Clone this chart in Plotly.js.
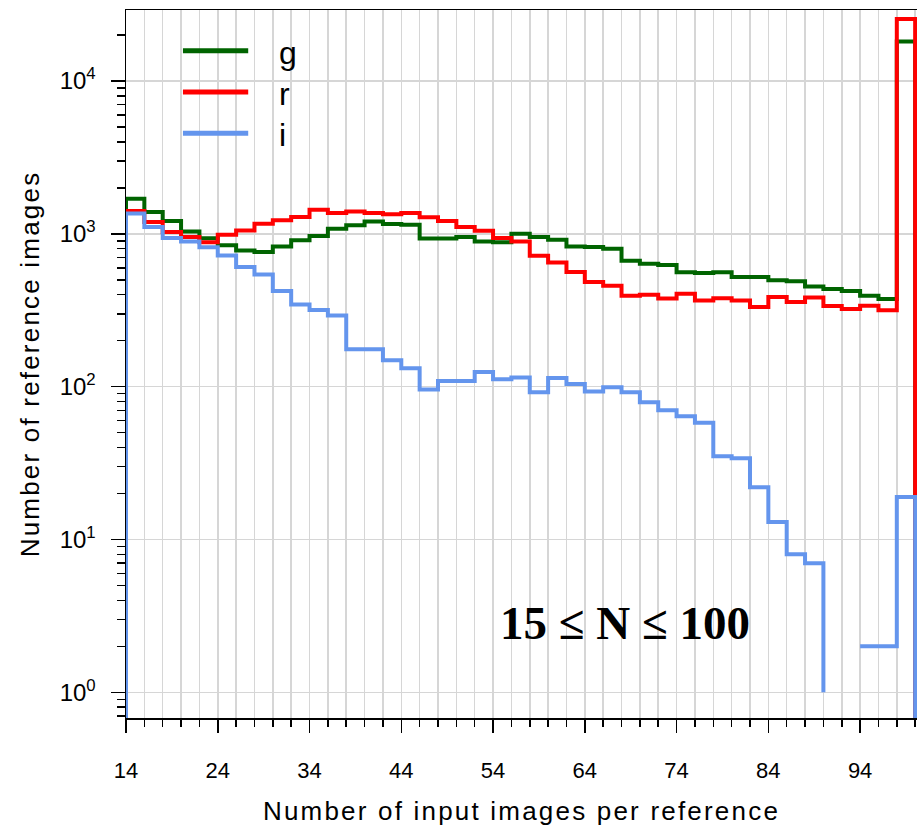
<!DOCTYPE html>
<html>
<head>
<meta charset="utf-8">
<script src="https://cdn.plot.ly/plotly-3.0.1.min.js"></script>
<style>
  html, body { margin: 0; padding: 0; background: #ffffff; }
  #chart { width: 923px; height: 830px; }
  .xtitle, .ytitle { letter-spacing: 2.2px; }
</style>
</head>
<body>
<div id="chart"></div>
<script>
// Bin left edges (bins are 2 wide), last bin ends at 100
const binStart = [14,16,18,20,22,24,26,28,30,32,34,36,38,40,42,44,46,48,50,52,54,56,58,60,62,64,66,68,70,72,74,76,78,80,82,84,86,88,90,92,94,96,98];
const binEnd = 100;

// Number of reference images per bin, per band (null = empty bin)
const countsG = [1698,1390,1215,1038,935,841,777,761,828,910,970,1080,1137,1207,1161,1149,931,931,955,893,880,1002,955,916,828,821,800,667,638,626,560,555,560,522,522,497,489,453,435,423,394,375,18150];
const countsR = [1410,1197,1029,955,882,988,1054,1166,1226,1290,1440,1371,1403,1371,1342,1371,1283,1215,1110,1049,940,893,720,650,562,484,458,394,400,377,406,366,379,366,332,386,358,384,337,323,339,316,25500];
const countsI = [1360,1110,940,893,816,723,607,543,423,345,317,292,176,176,149,132,96,109,109,125,112,115,92,114,104,93,99,92,79,70,64,58,35,34,22,13,8,7,1,null,2,2,19];

// Level used for the histogram outline to drop down to the axis (empty edges)
const zeroLevel = 0.1;

const bandNames = ['g', 'r', 'i'];
const bandColors = ['#006400', '#ff0000', '#6495ed'];
const bandCounts = [countsG, countsR, countsI];

const xTickStart = 14, xTickStep = 10, xMinorStep = 2;
const yTickVals = [1, 10, 100, 1000, 10000];
const yTickText = ['10<sup>0</sup>', '10<sup>1</sup>', '10<sup>2</sup>', '10<sup>3</sup>', '10<sup>4</sup>'];

function stepTrace(name, counts, color) {
  const x = [binStart[0]].concat(binStart, [binEnd]);
  const y = [zeroLevel].concat(counts, [zeroLevel]);
  return {
    type: 'scatter', mode: 'lines', name: name, x: x, y: y,
    line: { shape: 'hv', color: color, width: 4, simplify: false },
    connectgaps: false, showlegend: false, hoverinfo: 'skip'
  };
}

const traces = bandNames.map((n, i) => stepTrace(n, bandCounts[i], bandColors[i]));

const gridColor = '#d6d6d6';
const sans = 'Liberation Sans, Arial, Helvetica, sans-serif';

// Legend drawn in paper coordinates
const legendX0 = 0.072, legendX1 = 0.1545, legendTextX = 0.1905;
const legendY = [0.9425, 0.8842, 0.8258];
const shapes = bandNames.map((n, i) => ({
  type: 'line', xref: 'paper', yref: 'paper',
  x0: legendX0, x1: legendX1, y0: legendY[i], y1: legendY[i],
  line: { color: bandColors[i], width: 5 }
}));
const annotations = bandNames.map((n, i) => ({
  xref: 'paper', yref: 'paper', x: legendTextX, y: legendY[i] - 0.003,
  xanchor: 'left', yanchor: 'middle', showarrow: false, text: n,
  font: { family: sans, size: 32, color: '#000' }
}));
annotations.push({
  xref: 'paper', yref: 'paper', x: 0.631, y: 0.134,
  xanchor: 'center', yanchor: 'middle', showarrow: false,
  text: '<b>15 \u2264 N \u2264 100</b>',
  font: { family: 'Liberation Serif, Times New Roman, serif', size: 47, color: '#000' }
});

const layout = {
  width: 923, height: 830,
  margin: { l: 126, r: 6, t: 10, b: 112, pad: 0 },
  paper_bgcolor: '#ffffff', plot_bgcolor: '#ffffff',
  showlegend: false,
  xaxis: {
    range: [14, 100.2], autorange: false,
    tickmode: 'linear', tick0: xTickStart, dtick: xTickStep,
    ticks: 'outside', ticklen: 13, tickwidth: 1.5, tickcolor: '#000',
    ticklabelstandoff: 19,
    showline: true, linecolor: '#000', linewidth: 1.5, mirror: true,
    showgrid: true, gridcolor: gridColor, gridwidth: 1.5, zeroline: false,
    tickfont: { family: sans, size: 22, color: '#000' },
    minor: { tick0: xTickStart, dtick: xMinorStep, ticks: 'outside', ticklen: 7, tickwidth: 1.5, tickcolor: '#000',
             showgrid: true, gridcolor: gridColor, gridwidth: 1.5 },
    title: { text: 'Number of input images per reference', standoff: 20,
             font: { family: sans, size: 26, color: '#000' } },
    automargin: false
  },
  yaxis: {
    type: 'log', range: [-0.168, 4.465], autorange: false,
    tickmode: 'array', tickvals: yTickVals, ticktext: yTickText,
    ticks: 'outside', ticklen: 14, tickwidth: 1.5, tickcolor: '#000',
    ticklabelstandoff: 10,
    showline: true, linecolor: '#000', linewidth: 1.5, mirror: false,
    showgrid: true, gridcolor: gridColor, gridwidth: 1.5, zeroline: false,
    tickfont: { family: sans, size: 24, color: '#000' },
    minor: { dtick: 'D1', ticks: 'outside', ticklen: 8, tickwidth: 1.5, tickcolor: '#000', showgrid: false },
    title: { text: 'Number of reference images', standoff: 12,
             font: { family: sans, size: 26, color: '#000' } },
    automargin: false
  },
  shapes: shapes,
  annotations: annotations
};

Plotly.newPlot('chart', traces, layout, { displayModeBar: false, staticPlot: true });
</script>
</body>
</html>
